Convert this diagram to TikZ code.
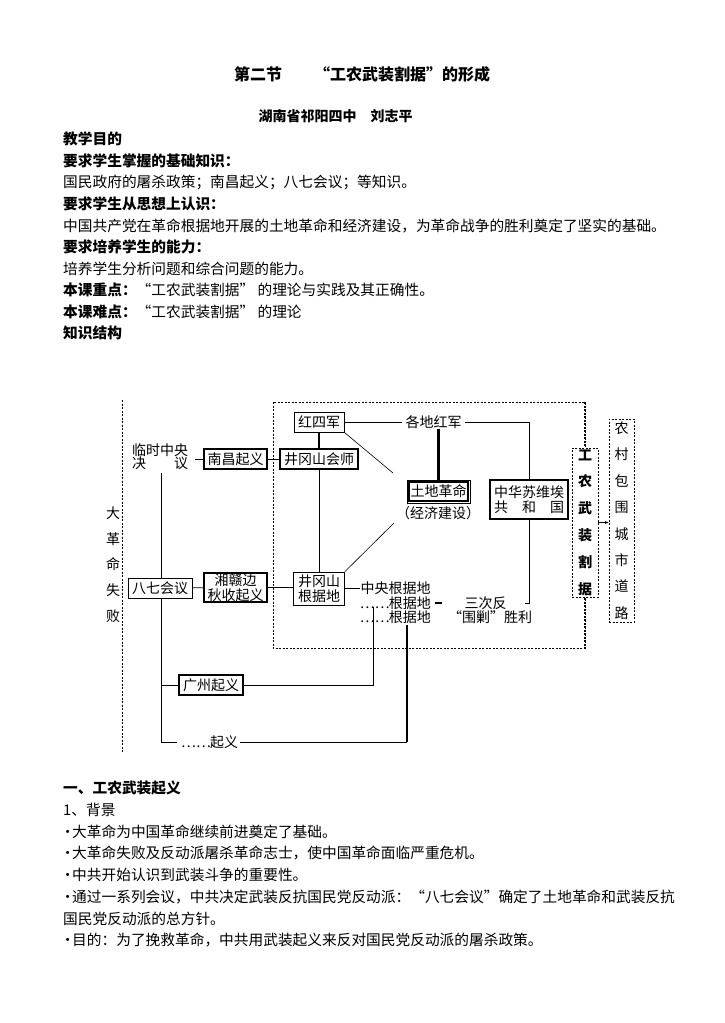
\documentclass[tikz,border=0pt]{standalone}
\usepackage{fontspec}
\setmainfont{Noto Sans CJK SC}
\usetikzlibrary{
		calc,
		positioning,
		arrows.meta
	}
\tikzset{
		>=stealth,
		bodytext/.style={anchor=west, inner sep=0pt, font=\fontsize{14.7}{17}\selectfont},
		headtext/.style={bodytext, font=\fontsize{14.7}{17}\selectfont\bfseries},
		chart/.style={inner sep=0pt, font=\fontsize{14}{15}\selectfont},
		box/.style={chart, draw, fill=white, line width=0.8pt, minimum height=20pt},
		boldbox/.style={box, line width=1.8pt},
		vbox/.style={chart, draw, fill=white, line width=0.8pt, dash pattern=on 2pt off 1.5pt, align=center},
		region/.style={line width=0.8pt, dash pattern=on 2pt off 1.5pt}
	}

\begin{document}
\begin{tikzpicture}[x=1pt, y=-1pt]
		\fill[white] (0,0) rectangle (724,1023);
		\useasboundingbox (0,0) rectangle (724,1023);
		\node[headtext, anchor=center, font=\fontsize{16}{18}\selectfont\bfseries] (title) at (362,74) {第二节　　“工农武装割据”的形成};
		\node[headtext, anchor=center, font=\fontsize{14}{16}\selectfont\bfseries] (author) at (335.5,116) {湖南省祁阳四中　刘志平};
		\node[headtext] (aim) at (63,139) {教学目的};
		\node[headtext] (know) at (63,161) {要求学生掌握的基础知识：};
		\node[bodytext] (knowtext) at (63,182) {国民政府的屠杀政策；南昌起义；八七会议；等知识。};
		\node[headtext] (think) at (63,204) {要求学生从思想上认识：};
		\node[bodytext] (thinktext) at (63,226) {中国共产党在革命根据地开展的土地革命和经济建设，为革命战争的胜利奠定了坚实的基础。};
		\node[headtext] (ability) at (63,247) {要求培养学生的能力：};
		\node[bodytext] (abilitytext) at (63,269) {培养学生分析问题和综合问题的能力。};
		\node[bodytext] (keypoint) at (63,290) {\bfseries 本课重点：\mdseries “工农武装割据” 的理论与实践及其正确性。};
		\node[bodytext] (hardpoint) at (63,312) {\bfseries 本课难点：\mdseries “工农武装割据” 的理论};
		\node[headtext] (structure) at (63,333) {知识结构};

		\draw[region, line width=0.9pt] (122,400) -- (122,752);
		\draw[region] (273,402) rectangle (585,648);
		\draw[region, line width=1.8pt] (585,402) -- (585,648);
		\coordinate (maintop) at (161,473);
		\coordinate (mainbot) at (161,742);
		\coordinate (gzleft) at (161,685);
		\draw[line width=0.8pt] (maintop) -- (mainbot);

		\node[chart, align=center, font=\fontsize{14}{25.75}\selectfont] (fail) at (113,564.5) {大\\革\\命\\失\\败};
		\node[chart] (linshi) at (160,450) {临时中央};
		\node[chart] (jueyi) at (160,463) {决\hspace{28pt}议};
		\coordinate (jueyiend) at (195,459);
		\node[boldbox, minimum width=63pt] (nanchang) at (235.5,459) {南昌起义};
		\node[box, minimum width=64pt] (bayi) at (160,588) {八七会议};
		\node[boldbox, align=center, minimum width=63pt, minimum height=29pt, font=\fontsize{14}{15}\selectfont] (qiushou) at (235.5,587.5) {湘赣边\\秋收起义};
		\node[box, minimum width=50pt] (hongsi) at (319,422) {红四军};
		\node[boldbox, minimum width=78pt] (huishi) at (319,459) {井冈山会师};
		\node[box, align=center, minimum width=51pt, minimum height=33pt] (jgsbase) at (319,588.5) {井冈山\\根据地};
		\node[chart, inner xsep=3pt] (gedi) at (433.5,422) {各地红军};
		\node[box, minimum width=63pt, minimum height=23pt] (tudi) at (438.5,491.5) {土地革命};
		\draw[line width=1.3pt] ([shift={(2.3pt,-2.3pt)}]tudi.north west) rectangle ([shift={(-2.3pt,2.3pt)}]tudi.south east);
		\node[chart] (jingji) at (438,513) {（经济建设）};
		\node[boldbox, align=center, minimum width=78pt, minimum height=39pt] (suwei) at (529,499.5) {中华苏维埃\\共\hspace{14pt}和\hspace{14pt}国};
		\node[chart] (zhongyang) at (395.5,588) {中央根据地};
		\node[chart, anchor=east] (genjudi2) at (431,603) {\makebox[28pt]{……}根据地};
		\node[chart, anchor=east] (genjudi3) at (431,617) {\makebox[28pt]{……}根据地};
		\node[chart] (sanci) at (485.5,603) {三次反};
		\node[chart] (weijiao) at (490,617) {“围剿”胜利};
		\node[boldbox, minimum width=64pt] (guangzhou) at (211,685) {广州起义};
		\node[chart] (qiyi) at (210,742) {\makebox[28pt]{……}起义};
		\node[vbox, font=\fontsize{14}{26.8}\selectfont\bfseries, minimum width=26pt, minimum height=149pt] (gongnong) at (585,522.5) {工\\农\\武\\装\\割\\据};
		\node[vbox, font=\fontsize{14}{26.4}\selectfont, minimum width=25pt, minimum height=203pt] (nongcun) at (621.5,520.5) {农\\村\\包\\围\\城\\市\\道\\路};

		\coordinate (tudiup) at (393,473);
		\coordinate (tudidown) at (394,523);
		\coordinate (sancend) at (525,603);
		\coordinate (gzup) at (373,607);
		\coordinate (qiyiup) at (407,625);
		\coordinate (qiyicorner) at (407,742);
		\draw[line width=0.8pt] (jueyiend) -- (nanchang.west);
		\draw[line width=0.8pt] (nanchang) -- (huishi);
		\draw[line width=0.8pt] (bayi) -- (qiushou);
		\draw[line width=0.8pt] (qiushou) -- (qiushou -| jgsbase.west);
		\draw[line width=2.2pt] (hongsi) -- (huishi);
		\draw[line width=0.8pt] (huishi) -- (jgsbase);
		\draw[line width=0.8pt] (hongsi) -- (gedi);
		\draw[line width=0.8pt] (gedi.east) -| (suwei.north);
		\draw[line width=2.2pt] (gedi.south -| tudi.north) -- (tudi.north);
		\draw[line width=0.6pt] (hongsi.south east) -- (tudiup);
		\draw[line width=0.6pt] (jgsbase.north east) -- (tudidown);
		\draw[line width=0.8pt] (suwei.south) |- (sancend);
		\draw[line width=0.8pt] (jgsbase.east |- zhongyang.west) -- (zhongyang.west);
		\draw[line width=1.5pt] ([xshift=4pt]genjudi2.east) -- ++(7,0);
		\draw[-{Stealth[length=4pt,width=3pt]}, line width=0.6pt] (gongnong.east) -- (gongnong.east -| nongcun.west);
		\draw[line width=0.8pt] (gzleft) -- (guangzhou.west);
		\draw[line width=0.8pt] (guangzhou.east) -| (gzup);
		\draw[line width=0.8pt] (mainbot) -- ([xshift=-5pt]qiyi.west);
		\draw[line width=0.8pt] ([xshift=2pt]qiyi.east) -- (qiyicorner);
		\draw[line width=2.4pt] (qiyicorner) -- (qiyiup);

		\node[headtext] (sec) at (63,788) {一、工农武装起义};
		\node[bodytext] (background) at (63,810) {1、背景};
		\node[bodytext] (item1) at (63,832) {\makebox[9pt]{·}大革命为中国革命继续前进奠定了基础。};
		\node[bodytext] (item2) at (63,853) {\makebox[9pt]{·}大革命失败及反动派屠杀革命志士，使中国革命面临严重危机。};
		\node[bodytext] (item3) at (63,875) {\makebox[9pt]{·}中共开始认识到武装斗争的重要性。};
		\node[bodytext] (item4) at (63,897) {\makebox[9pt]{·}通过一系列会议，中共决定武装反抗国民党反动派：“八七会议”确定了土地革命和武装反抗};
		\node[bodytext] (item4b) at (63,919) {国民党反动派的总方针。};
		\node[bodytext] (item5) at (63,940) {\makebox[9pt]{·}目的：为了挽救革命，中共用武装起义来反对国民党反动派的屠杀政策。};
	\end{tikzpicture}
\end{document}
